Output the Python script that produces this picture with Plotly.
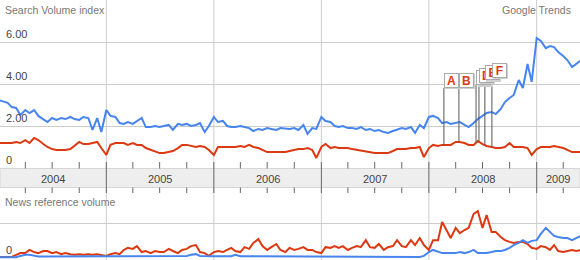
import numpy as np
import pandas as pd
import plotly.graph_objects as go

# ---------------- data ----------------
dates = pd.date_range("2004-01-01", "2009-06-01", freq="SMS")

search_blue = [3.24,3.19,3.10,2.90,2.86,2.52,2.76,2.62,2.76,2.48,
               2.33,2.19,2.38,2.29,2.38,2.33,2.43,2.33,2.29,2.43,
               2.38,1.81,2.38,1.71,2.76,2.48,2.43,2.14,2.10,2.19,
               2.10,2.24,2.38,1.95,1.95,2.00,1.95,2.00,2.05,1.81,
               2.10,2.05,2.10,2.00,2.05,2.14,1.71,2.00,2.43,2.19,
               2.24,2.00,1.95,1.95,2.00,1.95,1.90,1.76,1.86,1.81,
               1.90,1.86,1.81,1.90,1.86,1.86,1.90,1.81,2.05,1.62,
               1.90,1.86,2.43,2.24,2.19,2.00,1.95,2.00,1.90,1.90,
               1.86,1.95,1.81,1.86,1.76,1.81,1.71,1.67,1.76,1.81,
               1.90,1.86,1.95,1.67,2.05,1.90,2.43,2.48,2.38,2.14,
               2.19,2.10,2.14,2.19,2.05,1.95,2.14,2.33,2.48,2.62,
               2.67,2.57,2.81,3.14,3.33,3.48,4.19,3.81,4.95,4.10,
               6.19,6.05,5.71,5.81,5.76,5.52,5.33,5.14,4.81,4.95,
               5.14]

search_red = [1.19,1.19,1.19,1.19,1.24,1.19,1.33,1.19,1.43,1.33,
              1.14,1.00,0.90,0.86,0.86,0.86,0.90,1.05,1.24,1.14,
              1.14,1.19,1.24,0.95,0.62,1.10,1.19,1.19,1.19,1.10,
              1.19,1.10,1.10,0.95,0.86,0.81,0.71,0.71,0.76,0.81,
              0.95,1.10,1.10,1.05,1.00,1.05,1.00,0.86,0.62,1.00,
              1.00,1.00,1.00,1.00,1.05,1.00,1.10,1.00,0.95,0.86,
              0.76,0.76,0.76,0.76,0.76,0.81,0.86,0.90,0.90,0.95,
              0.86,0.48,1.00,1.14,0.95,1.00,0.95,0.95,0.95,0.90,
              0.86,0.81,0.76,0.76,0.71,0.71,0.71,0.71,0.81,0.90,
              0.90,0.90,0.95,0.95,1.00,0.52,0.95,1.10,1.05,1.10,
              1.10,1.10,1.24,1.24,1.19,1.10,1.10,1.29,1.14,1.05,
              1.00,0.95,0.95,1.00,1.19,1.00,1.00,1.00,0.95,0.62,
              0.90,1.00,1.00,1.00,1.05,1.00,0.95,0.86,0.76,0.76,
              0.76]

news_red = [0.03,0.03,0.03,0.03,0.09,0.14,0.14,0.23,0.17,0.14,
            0.20,0.20,0.14,0.17,0.11,0.14,0.11,0.09,0.11,0.09,
            0.11,0.09,0.11,0.09,0.06,0.11,0.14,0.11,0.23,0.29,
            0.26,0.34,0.17,0.20,0.14,0.20,0.17,0.17,0.26,0.20,
            0.14,0.23,0.26,0.34,0.37,0.17,0.14,0.06,0.17,0.20,
            0.17,0.23,0.29,0.20,0.17,0.31,0.26,0.43,0.54,0.34,
            0.23,0.31,0.40,0.23,0.17,0.29,0.23,0.26,0.31,0.23,
            0.23,0.17,0.14,0.31,0.29,0.34,0.29,0.34,0.23,0.29,
            0.34,0.31,0.51,0.31,0.29,0.40,0.23,0.31,0.34,0.51,
            0.34,0.31,0.51,0.37,0.57,0.37,0.23,0.51,0.51,1.03,
            0.80,0.57,0.86,0.71,0.80,0.86,1.26,1.34,0.86,1.23,
            0.74,0.74,0.60,0.51,0.46,0.43,0.46,0.46,0.40,0.29,
            0.26,0.34,0.31,0.23,0.37,0.20,0.17,0.20,0.23,0.20,
            0.23]

news_blue = [0.02,0.02,0.02,0.02,0.02,0.06,0.09,0.09,0.06,0.04,
             0.04,0.04,0.04,0.04,0.04,0.04,0.04,0.04,0.04,0.04,
             0.04,0.04,0.04,0.04,0.06,0.06,0.06,0.06,0.06,0.06,
             0.06,0.06,0.06,0.06,0.06,0.06,0.06,0.06,0.06,0.06,
             0.06,0.06,0.06,0.09,0.11,0.06,0.05,0.05,0.05,0.05,
             0.05,0.05,0.05,0.09,0.05,0.05,0.05,0.05,0.05,0.05,
             0.05,0.05,0.05,0.05,0.05,0.05,0.05,0.05,0.05,0.05,
             0.05,0.03,0.03,0.03,0.03,0.03,0.03,0.03,0.03,0.03,
             0.03,0.03,0.03,0.03,0.03,0.03,0.03,0.03,0.03,0.03,
             0.03,0.03,0.03,0.03,0.03,0.06,0.17,0.23,0.17,0.14,
             0.14,0.14,0.14,0.17,0.14,0.17,0.23,0.14,0.14,0.14,
             0.17,0.20,0.20,0.23,0.29,0.37,0.43,0.51,0.43,0.49,
             0.51,0.69,0.86,0.74,0.63,0.60,0.57,0.57,0.51,0.57,
             0.63]

years = [2004, 2005, 2006, 2007, 2008, 2009]
search_ticks = [6, 4, 2, 0]
search_tick_labels = ["6.00", "4.00", "2.00", "0"]

flag_letters = ["A", "B", "C", "D", "E", "F"]
flag_dates = ["2008-02-21", "2008-04-12", "2008-06-09", "2008-06-19", "2008-07-09", "2008-08-02"]
flag_levels = [3.81, 3.81, 3.95, 4.05, 4.19, 4.29]

# ---------------- style ----------------
BLUE = "#4684ee"
RED = "#dc3912"
FONT = "Liberation Sans, Arial, sans-serif"
W, H = 580, 260
X_RANGE = ["2004-01-06", "2009-05-28"]


def py(p):
    return 1 - p / H


fig = go.Figure()
fig.add_trace(go.Scatter(x=dates, y=search_blue, mode="lines", line=dict(color=BLUE, width=2),
                         xaxis="x", yaxis="y", hoverinfo="skip"))
fig.add_trace(go.Scatter(x=dates, y=search_red, mode="lines", line=dict(color=RED, width=2),
                         xaxis="x", yaxis="y", hoverinfo="skip"))
fig.add_trace(go.Scatter(x=dates, y=news_red, mode="lines", line=dict(color=RED, width=2),
                         xaxis="x", yaxis="y2", hoverinfo="skip"))
fig.add_trace(go.Scatter(x=dates, y=news_blue, mode="lines", line=dict(color=BLUE, width=2),
                         xaxis="x", yaxis="y2", hoverinfo="skip"))

shapes = []
# vertical year gridlines (full height)
for yr in years[1:]:
    shapes.append(dict(type="line", xref="x", yref="paper", x0=f"{yr}-01-01", x1=f"{yr}-01-01",
                       y0=0, y1=1, line=dict(color="#cccccc", width=1), layer="below"))
# year band
shapes.append(dict(type="rect", xref="paper", yref="paper", x0=0, x1=1, y0=py(187.5), y1=py(168.5),
                   fillcolor="#eeeeee", line=dict(color="#d6d6d6", width=1), layer="below"))
# dark year separators
for yr in years[1:]:
    shapes.append(dict(type="line", xref="x", yref="paper", x0=f"{yr}-01-01", x1=f"{yr}-01-01",
                       y0=py(193), y1=py(162), line=dict(color="#666666", width=1), layer="below"))
# quarter ticks
for yr in years:
    for m in (4, 7, 10):
        d = pd.Timestamp(f"{yr}-{m:02d}-01")
        if pd.Timestamp(X_RANGE[0]) < d < pd.Timestamp(X_RANGE[1]):
            shapes.append(dict(type="line", xref="x", yref="paper", x0=d, x1=d,
                               y0=py(168.5), y1=py(162), line=dict(color="#666666", width=1)))
            shapes.append(dict(type="line", xref="x", yref="paper", x0=d, x1=d,
                               y0=py(193), y1=py(187.5), line=dict(color="#666666", width=1)))

# flag poles
t_num = dates.values.astype("int64")
for d, lvl in zip(flag_dates, flag_levels):
    base = float(np.interp(pd.Timestamp(d).value, t_num, search_red))
    shapes.append(dict(type="line", xref="x", yref="y", x0=d, x1=d, y0=base, y1=lvl,
                       line=dict(color="#555555", width=1)))

annotations = []
annotations.append(dict(text="Search Volume index", xref="paper", yref="paper", x=0, y=py(10),
                        xanchor="left", yanchor="middle", xshift=3, showarrow=False,
                        font=dict(family=FONT, size=10.5, color="#777777")))
annotations.append(dict(text="Google Trends", xref="paper", yref="paper", x=1, y=py(10),
                        xanchor="right", yanchor="middle", xshift=-7, showarrow=False,
                        font=dict(family=FONT, size=10.5, color="#777777")))
annotations.append(dict(text="News reference volume", xref="paper", yref="paper", x=0, y=py(202),
                        xanchor="left", yanchor="middle", xshift=3, showarrow=False,
                        font=dict(family=FONT, size=10.5, color="#777777")))
for v, lab in zip(search_ticks, search_tick_labels):
    annotations.append(dict(text=lab, xref="paper", yref="y", x=0, y=v, xanchor="left",
                            yanchor="bottom", xshift=4, showarrow=False,
                            font=dict(family=FONT, size=11, color="#444444")))
annotations.append(dict(text="0", xref="paper", yref="y2", x=0, y=0, xanchor="left",
                        yanchor="bottom", xshift=4, showarrow=False,
                        font=dict(family=FONT, size=11, color="#444444")))
# year labels, centred on visible part of each year
r0, r1 = pd.Timestamp(X_RANGE[0]), pd.Timestamp(X_RANGE[1])
for yr in years:
    a = max(pd.Timestamp(f"{yr}-01-01"), r0)
    b = min(pd.Timestamp(f"{yr + 1}-01-01"), r1)
    annotations.append(dict(text=str(yr), xref="x", yref="paper", x=a + (b - a) / 2, y=py(178.5),
                            xanchor="center", yanchor="middle", showarrow=False,
                            font=dict(family=FONT, size=11, color="#444444")))
# flags
for letter, d, lvl in zip(flag_letters, flag_dates, flag_levels):
    annotations.append(dict(text=" ", xref="x", yref="y", x=d, y=lvl, xanchor="left", yanchor="bottom",
                            xshift=1.5, yshift=-1.5, width=11, height=11, borderpad=1, borderwidth=1,
                            bordercolor="#d0d0d0", bgcolor="#d0d0d0", showarrow=False,
                            font=dict(family=FONT, size=11)))
    annotations.append(dict(text=f"<b>{letter}</b>", xref="x", yref="y", x=d, y=lvl, xanchor="left",
                            yanchor="bottom", width=11, height=11, borderpad=1, borderwidth=1,
                            bordercolor="#aaaaaa", bgcolor="#ffffff", showarrow=False, align="center",
                            valign="middle", font=dict(family=FONT, size=12, color=RED)))

fig.update_layout(
    width=W, height=H, margin=dict(l=0, r=0, t=0, b=0),
    paper_bgcolor="white", plot_bgcolor="rgba(0,0,0,0)",
    showlegend=False, shapes=shapes, annotations=annotations,
    xaxis=dict(range=X_RANGE, visible=False, showgrid=False, zeroline=False, fixedrange=True),
    yaxis=dict(domain=[py(168), 1], range=[0, 8], tickvals=[2, 4, 6], showticklabels=False,
               showgrid=True, gridcolor="#cccccc", gridwidth=1, zeroline=False, showline=False,
               ticks="", fixedrange=True),
    yaxis2=dict(domain=[0, py(193)], range=[-2 / 35, 65 / 35], tickvals=[1], showticklabels=False,
                showgrid=True, gridcolor="#cccccc", gridwidth=1, zeroline=False, showline=False,
                ticks="", anchor="x", fixedrange=True),
)

fig.write_html("out.html", config={"displayModeBar": False})
